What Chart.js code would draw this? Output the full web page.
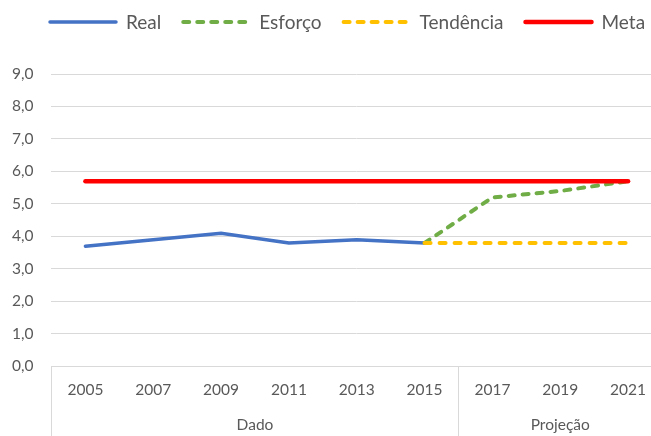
<!DOCTYPE html>
<html>
<head>
<meta charset="utf-8">
<script src="https://cdn.jsdelivr.net/npm/chart.js@4/dist/chart.umd.min.js"></script>
<style>
html,body{margin:0;padding:0;background:#fff;overflow:hidden;width:651px;height:436px;}
canvas{display:block;}
</style>
</head>
<body>
<canvas id="c" width="662" height="436"></canvas>
<script>
const categories = ['2005','2007','2009','2011','2013','2015','2017','2019','2021'];
const groups = [{label:'Dado', from:0, to:5}, {label:'Projeção', from:6, to:8}];
const real      = [3.7, 3.9, 4.1, 3.8, 3.9, 3.8, null, null, null];
const esforco   = [null, null, null, null, null, 3.8, 5.2, 5.4, 5.7];
const tendencia = [null, null, null, null, null, 3.8, 3.8, 3.8, 3.8];
const meta      = [5.7, 5.7, 5.7, 5.7, 5.7, 5.7, 5.7, 5.7, 5.7];
const yTicks = {min:0, max:9, step:1};

const FONT = 'Lato, "Open Sans", sans-serif';
const TXT = '#595959';
const LINE = '#d9d9d9';

const legendPlugin = {
  id:'customLegend',
  afterDraw(chart){
    const ctx = chart.ctx;
    const y = 22, lineLen = 70, gapText = 8, gapItem = 20;
    let x = 48;
    ctx.save();
    ctx.font = '19px ' + FONT;
    ctx.textBaseline = 'middle';
    ctx.textAlign = 'left';
    chart.data.datasets.forEach(ds=>{
      ctx.strokeStyle = ds.borderColor;
      ctx.lineWidth = ds.borderWidth;
      ctx.lineCap = 'round';
      ctx.setLineDash(ds.borderDash ? [6,8] : []);
      ctx.beginPath();
      ctx.moveTo(x + 2, y); ctx.lineTo(x + lineLen - 2, y);
      ctx.stroke();
      ctx.setLineDash([]);
      x += lineLen + gapText;
      ctx.fillStyle = TXT;
      ctx.fillText(ds.label, x, y + 1);
      x += ctx.measureText(ds.label).width + gapItem;
    });
    ctx.restore();
  }
};

const groupPlugin = {
  id:'groups',
  afterDraw(chart){
    const {ctx, chartArea, scales:{x}} = chart;
    const H = chart.height;
    ctx.save();
    ctx.strokeStyle = LINE;
    ctx.lineWidth = 1;
    const bounds = [chartArea.left];
    groups.forEach((g,i)=>{
      if(i < groups.length-1){
        bounds.push((x.getPixelForValue(g.to)+x.getPixelForValue(groups[i+1].from))/2);
      }
    });
    bounds.forEach(b=>{
      const xx = Math.round(b)+0.5;
      ctx.beginPath(); ctx.moveTo(xx, chartArea.bottom); ctx.lineTo(xx, H); ctx.stroke();
    });
    ctx.fillStyle = TXT;
    ctx.font = '15.5px ' + FONT;
    ctx.textAlign = 'center';
    ctx.textBaseline = 'middle';
    groups.forEach(g=>{
      const cx = (x.getPixelForValue(g.from)+x.getPixelForValue(g.to))/2;
      ctx.fillText(g.label, cx, 425);
    });
    ctx.restore();
  }
};

new Chart(document.getElementById('c'), {
  type:'line',
  data:{
    labels:categories,
    datasets:[
      {label:'Real', data:real, borderColor:'#4472C4', backgroundColor:'#4472C4', borderWidth:3.5, pointRadius:0, order:3, borderCapStyle:'round'},
      {label:'Esforço', data:esforco, borderColor:'#70AD47', backgroundColor:'#70AD47', borderWidth:4, borderDash:[6,8], borderCapStyle:'round', pointRadius:0, order:2},
      {label:'Tendência', data:tendencia, borderColor:'#FFC000', backgroundColor:'#FFC000', borderWidth:4, borderDash:[6,9], borderCapStyle:'round', pointRadius:0, order:1},
      {label:'Meta', data:meta, borderColor:'#FF0000', backgroundColor:'#FF0000', borderWidth:4.5, pointRadius:0, order:0, borderCapStyle:'round'}
    ]
  },
  options:{
    responsive:false,
    animation:false,
    spanGaps:false,
    layout:{padding:{left:-6, right:0, top:74, bottom:23}},
    plugins:{
      legend:{display:false},
      tooltip:{enabled:false}
    },
    scales:{
      x:{
        offset:true,
        grid:{display:false, drawTicks:false},
        border:{display:true, color:LINE},
        ticks:{color:TXT, font:{family:FONT, size:15.5}, padding:14, maxRotation:0, autoSkip:false}
      },
      y:{
        min:yTicks.min, max:yTicks.max,
        grid:{color:LINE, drawTicks:false},
        border:{display:false},
        ticks:{stepSize:yTicks.step, color:TXT, font:{family:FONT, size:15.5}, padding:18,
          callback:v=>v.toFixed(1).replace('.',',')}
      }
    }
  },
  plugins:[legendPlugin, groupPlugin]
});
</script>
</body>
</html>
